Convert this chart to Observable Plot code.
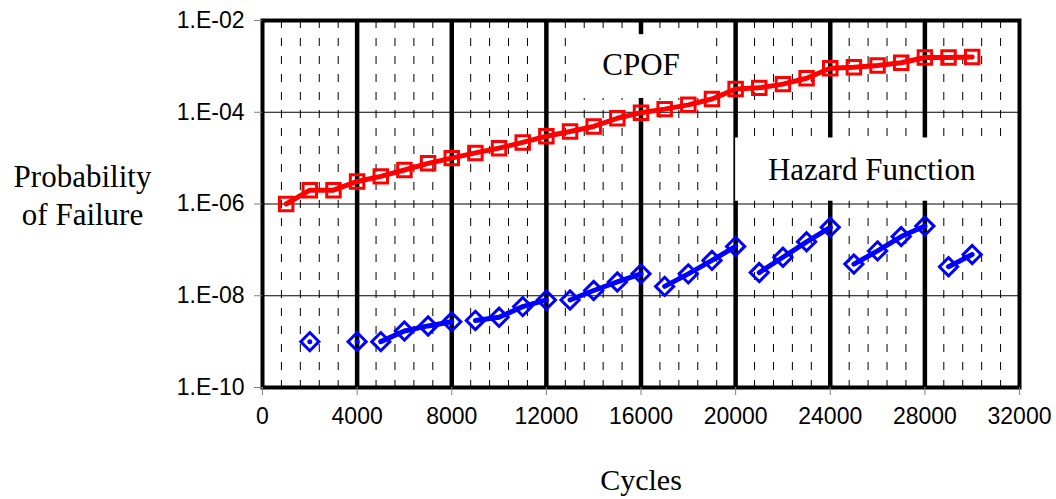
<!DOCTYPE html>
<html><head><meta charset="utf-8">
<script src="https://cdn.jsdelivr.net/npm/d3@7"></script>
<script src="https://cdn.jsdelivr.net/npm/@observablehq/plot@0.6"></script>
<style>body{margin:0;background:#fff;} #chart svg{overflow:visible;}</style>
</head><body><div id="chart"></div>
<script>
// ---- data ----
const cycles = [1000,2000,3000,4000,5000,6000,7000,8000,9000,10000,11000,12000,13000,14000,15000,16000,17000,18000,19000,20000,21000,22000,23000,24000,25000,26000,27000,28000,29000,30000];
const cpof = [1.0e-6,2.0e-6,2.0e-6,3.1e-6,4.0e-6,5.5e-6,7.7e-6,1.0e-5,1.3e-5,1.65e-5,2.2e-5,3.0e-5,3.8e-5,4.9e-5,7.4e-5,9.8e-5,1.17e-4,1.45e-4,1.94e-4,3.2e-4,3.4e-4,4.1e-4,5.5e-4,9.1e-4,9.6e-4,1.04e-3,1.2e-3,1.56e-3,1.56e-3,1.6e-3];
const hazCycles = [2000,4000,5000,6000,7000,8000,9000,10000,11000,12000,13000,14000,15000,16000,17000,18000,19000,20000,21000,22000,23000,24000,25000,26000,27000,28000,29000,30000];
const hazard = [1.0e-9,1.0e-9,1.0e-9,1.7e-9,2.2e-9,2.7e-9,2.9e-9,3.4e-9,5.8e-9,8.1e-9,8.1e-9,1.3e-8,2.0e-8,3.0e-8,1.6e-8,3.0e-8,5.9e-8,1.19e-7,3.2e-8,6.9e-8,1.5e-7,3.1e-7,4.9e-8,9.5e-8,1.95e-7,3.3e-7,4.3e-8,7.9e-8];
const hazSegment = [0,1,2,2,2,2,3,3,3,3,4,4,4,4,5,5,5,5,6,6,6,6,7,7,7,7,8,8];
const xTicks = [0,4000,8000,12000,16000,20000,24000,28000,32000];
const majorX = [4000,8000,12000,16000,20000,24000,28000];
const yTicks = [1e-10,1e-8,1e-6,1e-4,1e-2];
const hGrid = [1e-8,1e-6,1e-4];
const minorX = d3.range(800, 32000, 800).filter(v => v % 4000 !== 0);
// label boxes (data coordinates)
const boxNames = ["CPOF","Hazard Function"];
const boxX1 = [13000, 20000], boxX2 = [19000, 32000];
const boxY1 = [4.9e-3, 2.75e-5], boxY2 = [2.0e-4, 1.15e-6];
const labelX = [16000, 25750], labelY = [1.07e-3, 5.5e-6];

const cpofData = cycles.map((c,i)=>({c, v: cpof[i]}));
const hazData = hazCycles.map((c,i)=>({c, v: hazard[i], seg: hazSegment[i]}));
const boxes = boxNames.map((n,i)=>({n, x1: boxX1[i], x2: boxX2[i], y1: boxY1[i], y2: boxY2[i], lx: labelX[i], ly: labelY[i]}));

const serif = "'Liberation Serif','Times New Roman',serif";
const fmtY = d => "1.E-" + String(-Math.round(Math.log10(d))).padStart(2,"0");

const chart = Plot.plot({
  width: 1056, height: 499,
  marginLeft: 262, marginRight: 37, marginTop: 20, marginBottom: 112,
  style: {fontFamily: "'Liberation Sans',Arial,sans-serif", fontSize: "23px", background: "#fff", color: "#000"},
  x: {domain: [0, 32000]},
  y: {type: "log", domain: [1e-10, 1e-2]},
  marks: [
    Plot.ruleX(minorX, {stroke: "#000", strokeWidth: 1, strokeDasharray: "8,10"}),
    Plot.ruleX(majorX, {stroke: "#000", strokeWidth: 4.5}),
    Plot.ruleY(hGrid, {stroke: "#000", strokeWidth: 1}),
    Plot.rect(boxes, {x1: "x1", x2: "x2", y1: "y1", y2: "y2", fill: "#fff"}),
    Plot.text(boxes, {x: "lx", y: "ly", text: "n", fontFamily: serif, fontSize: 31, fill: "#000"}),
    Plot.line(cpofData, {x: "c", y: "v", stroke: "#ff0000", strokeWidth: 5}),
    Plot.dot(cpofData, {x: "c", y: "v", symbol: "square", r: 7.6, stroke: "#ff0000", strokeWidth: 3, fill: "none"}),
    Plot.line(hazData, {x: "c", y: "v", z: "seg", stroke: "#0000ff", strokeWidth: 5}),
    Plot.dot(hazData, {x: "c", y: "v", symbol: "diamond2", r: 8.2, stroke: "#0000ff", strokeWidth: 3, fill: "none"}),
    Plot.frame({stroke: "#000", strokeWidth: 4}),
    Plot.axisY({ticks: yTicks, tickFormat: fmtY, tickSize: 8, tickPadding: 10, stroke: "#808080", fill: "#000", label: null, fontSize: 23}),
    Plot.axisX({ticks: xTicks, tickFormat: d3.format("d"), tickSize: 8, tickPadding: 12, stroke: "#808080", fill: "#000", label: null, fontSize: 23}),
    Plot.text(["Probability\nof Failure"], {frameAnchor: "left", dx: -180, dy: -10, text: d => d, textAnchor: "middle", lineAnchor: "middle", lineHeight: 1.23, fontFamily: serif, fontSize: 31, fill: "#000"}),
    Plot.text(["Cycles"], {frameAnchor: "bottom", dy: 93, text: d => d, textAnchor: "middle", lineAnchor: "middle", fontFamily: serif, fontSize: 30, fill: "#000"})
  ]
});
document.getElementById("chart").appendChild(chart);
</script>
</body></html>
